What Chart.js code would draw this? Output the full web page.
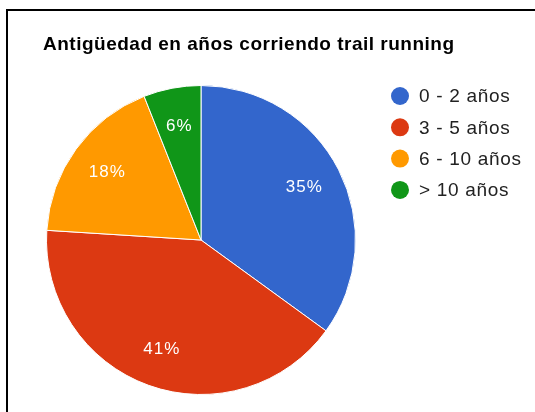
<!DOCTYPE html>
<html>
<head>
<meta charset="utf-8">
<script src="https://cdn.jsdelivr.net/npm/chart.js@4/dist/chart.umd.min.js"></script>
<style>
  html, body { margin: 0; padding: 0; background: #fff; }
  #wrap { position: relative; width: 535px; height: 412px; }
</style>
</head>
<body>
<div id="wrap"><canvas id="c" width="535" height="412"></canvas></div>
<script>
const titleText = "Antigüedad en años corriendo trail running";
const categories = ["0 - 2 años", "3 - 5 años", "6 - 10 años", "> 10 años"];
const values = [35, 41, 18, 6];
const colors = ["#3366cc", "#dc3912", "#ff9900", "#109618"];

const frame = {
  id: "frame",
  beforeDraw(chart) {
    const ctx = chart.ctx;
    ctx.save();
    ctx.fillStyle = "#fff";
    ctx.fillRect(0, 0, chart.width, chart.height);
    ctx.fillStyle = "#000";
    ctx.fillRect(6, 9, chart.width - 6, 2);
    ctx.fillRect(6, 9, 2, chart.height - 9);
    ctx.fillStyle = "#000";
    ctx.font = "bold 19px 'Liberation Sans', Arial, sans-serif";
    ctx.letterSpacing = "0.5px";
    ctx.textBaseline = "alphabetic";
    ctx.textAlign = "left";
    ctx.fillText(titleText, 43, 50);
    ctx.restore();
  }
};

const sideLegend = {
  id: "sideLegend",
  afterDraw(chart) {
    const ctx = chart.ctx;
    const items = chart.data.labels;
    const bg = chart.data.datasets[0].backgroundColor;
    ctx.save();
    ctx.font = "19px 'Liberation Sans', Arial, sans-serif";
    ctx.letterSpacing = "0.7px";
    ctx.textBaseline = "middle";
    ctx.textAlign = "left";
    items.forEach((lab, i) => {
      const y = 96 + i * 31.3;
      ctx.beginPath();
      ctx.arc(400, y, 9, 0, Math.PI * 2);
      ctx.fillStyle = bg[i];
      ctx.fill();
      ctx.fillStyle = "#222";
      ctx.fillText(lab, 419, y + 1);
    });
    ctx.restore();
  }
};

const sliceLabels = {
  id: "sliceLabels",
  afterDatasetsDraw(chart) {
    const ctx = chart.ctx;
    const meta = chart.getDatasetMeta(0);
    const data = chart.data.datasets[0].data;
    const total = data.reduce((a, b) => a + b, 0);
    ctx.save();
    ctx.font = "17px 'Liberation Sans', Arial, sans-serif";
    ctx.letterSpacing = "1px";
    ctx.fillStyle = "#fff";
    ctx.textAlign = "center";
    ctx.textBaseline = "middle";
    meta.data.forEach((arc, i) => {
      const p = arc.getProps(["x", "y", "startAngle", "endAngle", "outerRadius"], true);
      const mid = (p.startAngle + p.endAngle) / 2;
      const r = p.outerRadius * 0.75;
      const pct = Math.round(data[i] / total * 100) + "%";
      ctx.fillText(pct, p.x + Math.cos(mid) * r, p.y + Math.sin(mid) * r);
    });
    ctx.restore();
  }
};

new Chart(document.getElementById("c"), {
  type: "pie",
  data: {
    labels: categories,
    datasets: [{
      data: values,
      backgroundColor: colors,
      borderColor: "#fff",
      borderWidth: 1
    }]
  },
  options: {
    responsive: false,
    animation: false,
    events: [],
    layout: { padding: { left: 46, right: 179, top: 84, bottom: 16 } },
    plugins: {
      legend: { display: false },
      title: { display: false },
      tooltip: { enabled: false }
    }
  },
  plugins: [frame, sideLegend, sliceLabels]
});
</script>
</body>
</html>
